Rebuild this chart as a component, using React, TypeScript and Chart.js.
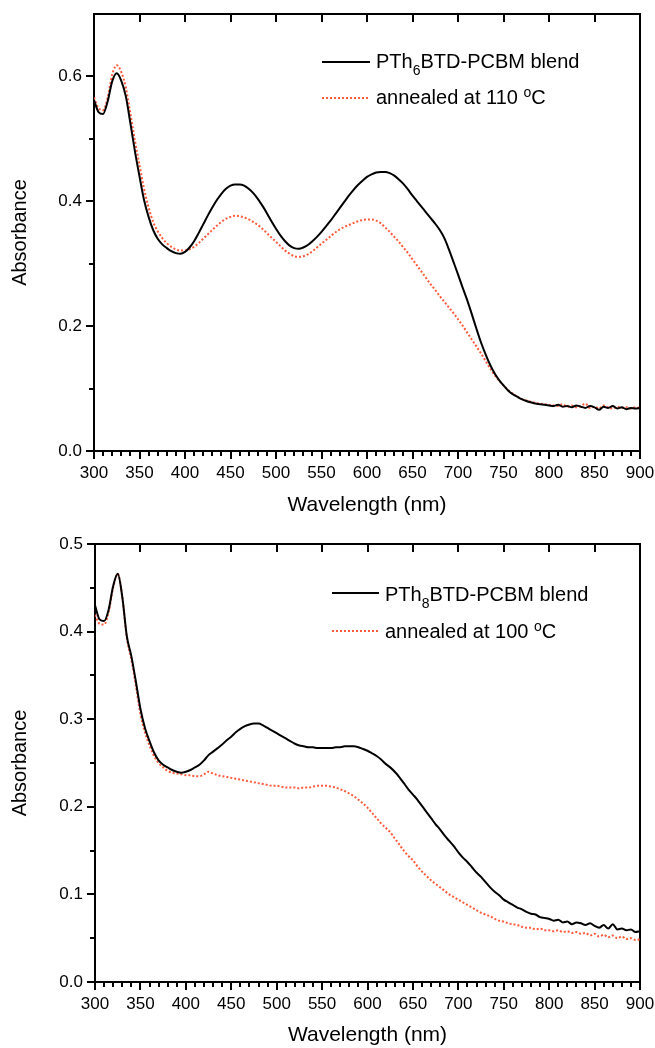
import React, { useEffect, useRef } from "react";
import { Chart, registerables } from "chart.js";

Chart.register(...registerables);

// ---------- data ----------
const WAVELENGTHS = [
  300, 305, 310, 315, 320, 325, 330, 335, 340, 345,
  350, 355, 360, 365, 370, 375, 380, 385, 390, 395,
  400, 405, 410, 415, 420, 425, 430, 435, 440, 445,
  450, 455, 460, 465, 470, 475, 480, 485, 490, 495,
  500, 505, 510, 515, 520, 525, 530, 535, 540, 545,
  550, 555, 560, 565, 570, 575, 580, 585, 590, 595,
  600, 605, 610, 615, 620, 625, 630, 635, 640, 645,
  650, 655, 660, 665, 670, 675, 680, 685, 690, 695,
  700, 705, 710, 715, 720, 725, 730, 735, 740, 745,
  750, 755, 760, 765, 770, 775, 780, 785, 790, 795,
  800, 805, 810, 815, 820, 825, 830, 835, 840, 845,
  850, 855, 860, 865, 870, 875, 880, 885, 890, 895,
  900,
];

// Top panel: PTh6BTD-PCBM blend
const TOP_BLEND = [
  0.562, 0.543, 0.540, 0.560, 0.592, 0.605, 0.593, 0.568, 0.525, 0.480,
  0.440, 0.402, 0.375, 0.354, 0.340, 0.331, 0.325, 0.320, 0.317, 0.316,
  0.319, 0.326, 0.336, 0.349, 0.363, 0.377, 0.390, 0.402, 0.412, 0.420,
  0.425, 0.427, 0.427, 0.425, 0.420, 0.413, 0.404, 0.393, 0.381, 0.368,
  0.356, 0.345, 0.336, 0.329, 0.325, 0.324, 0.326, 0.330, 0.336, 0.343,
  0.351, 0.360, 0.369, 0.379, 0.389, 0.399, 0.409, 0.418, 0.426, 0.433,
  0.439, 0.443, 0.446, 0.447, 0.447, 0.445, 0.441, 0.435, 0.428, 0.419,
  0.409, 0.400, 0.391, 0.382, 0.373, 0.364, 0.354, 0.341, 0.323, 0.303,
  0.283, 0.262, 0.242, 0.220, 0.197, 0.175, 0.156, 0.139, 0.125, 0.114,
  0.105, 0.097, 0.091, 0.087, 0.083, 0.080, 0.078, 0.076, 0.075, 0.074,
  0.073, 0.072, 0.074, 0.071, 0.072, 0.070, 0.073, 0.071, 0.069, 0.072,
  0.070, 0.066, 0.071, 0.069, 0.072, 0.068, 0.070, 0.067, 0.069, 0.068,
  0.069,
];

// Top panel: annealed at 110 °C
const TOP_ANNEALED = [
  0.566, 0.549, 0.546, 0.566, 0.603, 0.618, 0.607, 0.582, 0.540, 0.497,
  0.458, 0.420, 0.390, 0.367, 0.352, 0.341, 0.333, 0.327, 0.323, 0.321,
  0.321, 0.323, 0.327, 0.333, 0.340, 0.347, 0.354, 0.361, 0.367, 0.372,
  0.375, 0.377, 0.376, 0.374, 0.371, 0.367, 0.362, 0.356, 0.349, 0.342,
  0.335, 0.328, 0.321, 0.316, 0.312, 0.311, 0.312, 0.315, 0.320, 0.326,
  0.332, 0.338, 0.344, 0.350, 0.355, 0.359, 0.362, 0.365, 0.368, 0.370,
  0.371, 0.371, 0.369, 0.365, 0.358, 0.351, 0.343, 0.335, 0.326, 0.317,
  0.307, 0.297, 0.287, 0.277, 0.267, 0.258, 0.248, 0.239, 0.230, 0.221,
  0.211, 0.201, 0.190, 0.179, 0.168, 0.157, 0.145, 0.133, 0.122, 0.113,
  0.105, 0.098, 0.092, 0.087, 0.083, 0.081, 0.079, 0.077, 0.076, 0.075,
  0.074, 0.073, 0.072, 0.075, 0.071, 0.073, 0.070, 0.072, 0.076, 0.069,
  0.071, 0.068, 0.073, 0.070, 0.068, 0.071, 0.069, 0.070, 0.068, 0.070,
  0.069,
];

// Bottom panel: PTh8BTD-PCBM blend
const BOTTOM_BLEND = [
  0.430, 0.414, 0.412, 0.425, 0.452, 0.466, 0.440, 0.395, 0.372, 0.343,
  0.312, 0.290, 0.275, 0.262, 0.253, 0.248, 0.245, 0.242, 0.240, 0.239,
  0.240, 0.242, 0.245, 0.248, 0.253, 0.259, 0.263, 0.267, 0.271, 0.276,
  0.280, 0.285, 0.289, 0.292, 0.294, 0.295, 0.295, 0.293, 0.290, 0.287,
  0.284, 0.281, 0.278, 0.275, 0.272, 0.270, 0.269, 0.268, 0.268, 0.267,
  0.267, 0.267, 0.267, 0.268, 0.268, 0.269, 0.269, 0.269, 0.268, 0.266,
  0.264, 0.261, 0.258, 0.254, 0.249, 0.245, 0.240, 0.234, 0.227, 0.220,
  0.214, 0.208, 0.201, 0.194, 0.187, 0.180, 0.174, 0.167, 0.161, 0.155,
  0.148, 0.142, 0.137, 0.131, 0.125, 0.120, 0.114, 0.108, 0.103, 0.099,
  0.094, 0.091, 0.088, 0.085, 0.083, 0.080, 0.078, 0.077, 0.074, 0.073,
  0.072, 0.070, 0.071, 0.068, 0.069, 0.066, 0.068, 0.067, 0.065, 0.067,
  0.064, 0.062, 0.065, 0.061, 0.066, 0.060, 0.061, 0.059, 0.060, 0.057,
  0.058,
];

// Bottom panel: annealed at 100 °C
const BOTTOM_ANNEALED = [
  0.419, 0.409, 0.408, 0.422, 0.450, 0.466, 0.440, 0.393, 0.368, 0.338,
  0.306, 0.285, 0.270, 0.258, 0.250, 0.245, 0.241, 0.239, 0.238, 0.237,
  0.236, 0.236, 0.235, 0.235, 0.237, 0.240, 0.238, 0.236, 0.235, 0.234,
  0.233, 0.232, 0.231, 0.230, 0.229, 0.228, 0.227, 0.226, 0.225, 0.224,
  0.224, 0.223, 0.222, 0.222, 0.222, 0.221, 0.222, 0.222, 0.223, 0.224,
  0.224, 0.224, 0.223, 0.222, 0.220, 0.218, 0.215, 0.212, 0.208, 0.204,
  0.199, 0.193, 0.187, 0.181, 0.176, 0.171, 0.164, 0.157, 0.150, 0.144,
  0.139, 0.132, 0.126, 0.121, 0.116, 0.112, 0.108, 0.104, 0.100, 0.097,
  0.094, 0.091, 0.088, 0.085, 0.082, 0.079, 0.077, 0.075, 0.072, 0.070,
  0.069, 0.067, 0.066, 0.065, 0.063, 0.062, 0.062, 0.060, 0.061, 0.059,
  0.059, 0.058, 0.059, 0.057, 0.058, 0.056, 0.057, 0.055, 0.056, 0.053,
  0.055, 0.052, 0.054, 0.051, 0.053, 0.050, 0.052, 0.049, 0.050, 0.048,
  0.049,
];

// tick labels
const X_TICK_LABELS = [300, 350, 400, 450, 500, 550, 600, 650, 700, 750, 800, 850, 900];
const TOP_Y_TICK_LABELS = [0.0, 0.2, 0.4, 0.6];
const BOTTOM_Y_TICK_LABELS = [0.0, 0.1, 0.2, 0.3, 0.4, 0.5];

// legend text pieces (normal / sub / sup)
const TOP_LEGEND_1 = [["PTh", "n"], ["6", "sub"], ["BTD-PCBM blend", "n"]];
const TOP_LEGEND_2 = [["annealed at 110 ", "n"], ["o", "sup"], ["C", "n"]];
const BOTTOM_LEGEND_1 = [["PTh", "n"], ["8", "sub"], ["BTD-PCBM blend", "n"]];
const BOTTOM_LEGEND_2 = [["annealed at 100 ", "n"], ["o", "sup"], ["C", "n"]];

const X_TITLE = "Wavelength (nm)";
const Y_TITLE = "Absorbance";

// ---------- styling ----------
const FONT = "'Liberation Sans', Arial, Helvetica, sans-serif";
const BLACK = "#000000";
const ORANGE = "#ff5a3a";

function minorBetween(majors: number[], parts: number): number[] {
  const out: number[] = [];
  for (let i = 0; i < majors.length - 1; i++) {
    const a = majors[i];
    const b = majors[i + 1];
    for (let k = 1; k < parts; k++) out.push(a + ((b - a) * k) / parts);
  }
  return out;
}

const frameTicksPlugin = {
  id: "frameTicks",
  afterDraw(chart: any, _args: any, opts: any) {
    const { ctx, chartArea: a, scales } = chart;
    const xs = scales.x;
    const ys = scales.y;
    ctx.save();
    ctx.strokeStyle = BLACK;
    ctx.lineWidth = 2;
    ctx.lineCap = "butt";
    ctx.beginPath();
    for (const v of opts.xMajor) {
      const p = Math.round(xs.getPixelForValue(v));
      ctx.moveTo(p, a.bottom);
      ctx.lineTo(p, a.bottom + 8);
    }
    for (const v of opts.xMinor) {
      const p = Math.round(xs.getPixelForValue(v));
      ctx.moveTo(p, a.bottom);
      ctx.lineTo(p, a.bottom + 5);
    }
    for (const v of opts.xMajor) {
      if (v <= xs.min || v >= xs.max) continue;
      const p = Math.round(xs.getPixelForValue(v));
      ctx.moveTo(p, a.top);
      ctx.lineTo(p, a.top + 8);
    }
    for (const v of opts.yMajor) {
      const p = Math.round(ys.getPixelForValue(v));
      ctx.moveTo(a.left - 8, p);
      ctx.lineTo(a.left, p);
    }
    for (const v of opts.yMinor) {
      const p = Math.round(ys.getPixelForValue(v));
      ctx.moveTo(a.left - 5, p);
      ctx.lineTo(a.left, p);
    }
    ctx.stroke();
    ctx.restore();
  },
};

const richLegendPlugin = {
  id: "richLegend",
  afterDraw(chart: any, _args: any, opts: any) {
    const ctx = chart.ctx;
    ctx.save();
    opts.items.forEach((item: any, i: number) => {
      const ds = chart.data.datasets[i];
      ctx.strokeStyle = ds.borderColor;
      ctx.lineWidth = 2;
      ctx.setLineDash(ds.borderDash || []);
      ctx.beginPath();
      ctx.moveTo(item.x1, item.lineY);
      ctx.lineTo(item.x2, item.lineY);
      ctx.stroke();
      ctx.setLineDash([]);
      let x = item.textX;
      ctx.fillStyle = BLACK;
      ctx.textAlign = "left";
      ctx.textBaseline = "alphabetic";
      for (const [text, kind] of item.segments) {
        const size = kind === "n" ? opts.fontSize : opts.smallSize;
        ctx.font = `${size}px ${FONT}`;
        const dy = kind === "sub" ? opts.subShift : kind === "sup" ? -opts.supShift : 0;
        ctx.fillText(text, x, item.baseline + dy);
        x += ctx.measureText(text).width;
      }
    });
    ctx.restore();
  },
};

type PanelProps = {
  top: number;
  height: number;
  area: { left: number; right: number; top: number; bottom: number };
  blend: number[];
  annealed: number[];
  yMax: number;
  yStep: number;
  yLabels: number[];
  legend1: any[];
  legend2: any[];
  legendPos: { x1: number; x2: number; textX: number; line1: number; base1: number; line2: number; base2: number };
  xTitlePad: number;
};

function Panel(p: PanelProps) {
  const ref = useRef<HTMLCanvasElement | null>(null);

  useEffect(() => {
    if (!ref.current) return;
    const W = 655;
    const H = p.height;
    const toPts = (vals: number[]) => WAVELENGTHS.map((w, i) => ({ x: w, y: vals[i] }));
    const axisBase = {
      grid: { display: true, drawOnChartArea: false, drawTicks: false },
      border: { display: true, color: BLACK, width: 2 },
    };
    const chart = new Chart(ref.current, {
      type: "line",
      data: {
        datasets: [
          {
            label: "blend",
            data: toPts(p.blend),
            borderColor: BLACK,
            borderWidth: 2,
            pointRadius: 0,
            fill: false,
            cubicInterpolationMode: "monotone",
          },
          {
            label: "annealed",
            data: toPts(p.annealed),
            borderColor: ORANGE,
            borderWidth: 2,
            borderDash: [2, 2],
            pointRadius: 0,
            fill: false,
            cubicInterpolationMode: "monotone",
          },
        ],
      },
      options: {
        animation: false,
        responsive: false,
        maintainAspectRatio: false,
        events: [],
        layout: { padding: 0 },
        plugins: {
          legend: { display: false },
          tooltip: { enabled: false },
          frameTicks: {
            xMajor: X_TICK_LABELS,
            xMinor: minorBetween(X_TICK_LABELS, 5),
            yMajor: p.yLabels,
            yMinor: minorBetween([...p.yLabels, p.yLabels[p.yLabels.length - 1] + p.yStep].filter((v) => v <= p.yMax + 1e-9), 2),
          },
          richLegend: {
            fontSize: 20,
            smallSize: 14,
            subShift: 7,
            supShift: 7,
            items: [
              { x1: p.legendPos.x1, x2: p.legendPos.x2, lineY: p.legendPos.line1, textX: p.legendPos.textX, baseline: p.legendPos.base1, segments: p.legend1 },
              { x1: p.legendPos.x1, x2: p.legendPos.x2, lineY: p.legendPos.line2, textX: p.legendPos.textX, baseline: p.legendPos.base2, segments: p.legend2 },
            ],
          },
        } as any,
        scales: {
          x: {
            type: "linear",
            position: "bottom",
            min: 300,
            max: 900,
            ...axisBase,
            ticks: {
              stepSize: 50,
              maxRotation: 0,
              autoSkip: false,
              padding: 12,
              color: BLACK,
              font: { family: FONT, size: 17 },
              callback: (v: any) => String(v),
            },
            title: {
              display: true,
              text: X_TITLE,
              color: BLACK,
              font: { family: FONT, size: 21 },
              padding: { top: 0, bottom: p.xTitlePad },
            },
            afterFit: (s: any) => {
              s.height = H - p.area.bottom;
              s.paddingLeft = 0;
              s.paddingRight = 0;
            },
          },
          x2: {
            type: "linear",
            position: "top",
            min: 300,
            max: 900,
            ...axisBase,
            ticks: { display: false },
            afterFit: (s: any) => {
              s.height = p.area.top;
              s.paddingLeft = 0;
              s.paddingRight = 0;
            },
          },
          y: {
            type: "linear",
            position: "left",
            min: 0,
            max: p.yMax,
            ...axisBase,
            ticks: {
              stepSize: p.yStep,
              includeBounds: false,
              padding: 12,
              color: BLACK,
              font: { family: FONT, size: 17 },
              callback: (v: any) => Number(v).toFixed(1),
            },
            title: {
              display: true,
              text: Y_TITLE,
              color: BLACK,
              font: { family: FONT, size: 20 },
              padding: { top: 8.5, bottom: 0 },
            },
            afterFit: (s: any) => {
              s.width = p.area.left;
              s.paddingTop = 0;
              s.paddingBottom = 0;
            },
          },
          y2: {
            type: "linear",
            position: "right",
            min: 0,
            max: p.yMax,
            ...axisBase,
            ticks: { display: false },
            afterFit: (s: any) => {
              s.width = W - p.area.right;
              s.paddingTop = 0;
              s.paddingBottom = 0;
            },
          },
        },
      } as any,
      plugins: [frameTicksPlugin, richLegendPlugin],
    });
    return () => chart.destroy();
  }, []);

  return (
    <canvas
      ref={ref}
      width={655}
      height={p.height}
      style={{ position: "absolute", left: 0, top: p.top, width: 655, height: p.height, display: "block" }}
    />
  );
}

export default function App() {
  useEffect(() => {
    document.body.style.margin = "0";
  }, []);
  return (
    <div style={{ position: "absolute", left: 0, top: 0, width: 655, height: 1048, background: "#fff", overflow: "hidden" }}>
      <Panel
        top={0}
        height={524}
        area={{ left: 94, right: 640, top: 14, bottom: 451 }}
        blend={TOP_BLEND}
        annealed={TOP_ANNEALED}
        yMax={0.7}
        yStep={0.2}
        yLabels={TOP_Y_TICK_LABELS}
        legend1={TOP_LEGEND_1}
        legend2={TOP_LEGEND_2}
        legendPos={{ x1: 322, x2: 370, textX: 376, line1: 62, base1: 67.5, line2: 98, base2: 104 }}
        xTitlePad={6.5}
      />
      <Panel
        top={524}
        height={524}
        area={{ left: 95, right: 640, top: 20, bottom: 458 }}
        blend={BOTTOM_BLEND}
        annealed={BOTTOM_ANNEALED}
        yMax={0.5}
        yStep={0.1}
        yLabels={BOTTOM_Y_TICK_LABELS}
        legend1={BOTTOM_LEGEND_1}
        legend2={BOTTOM_LEGEND_2}
        legendPos={{ x1: 332, x2: 379, textX: 385, line1: 69, base1: 76.5, line2: 107, base2: 114 }}
        xTitlePad={0}
      />
    </div>
  );
}
